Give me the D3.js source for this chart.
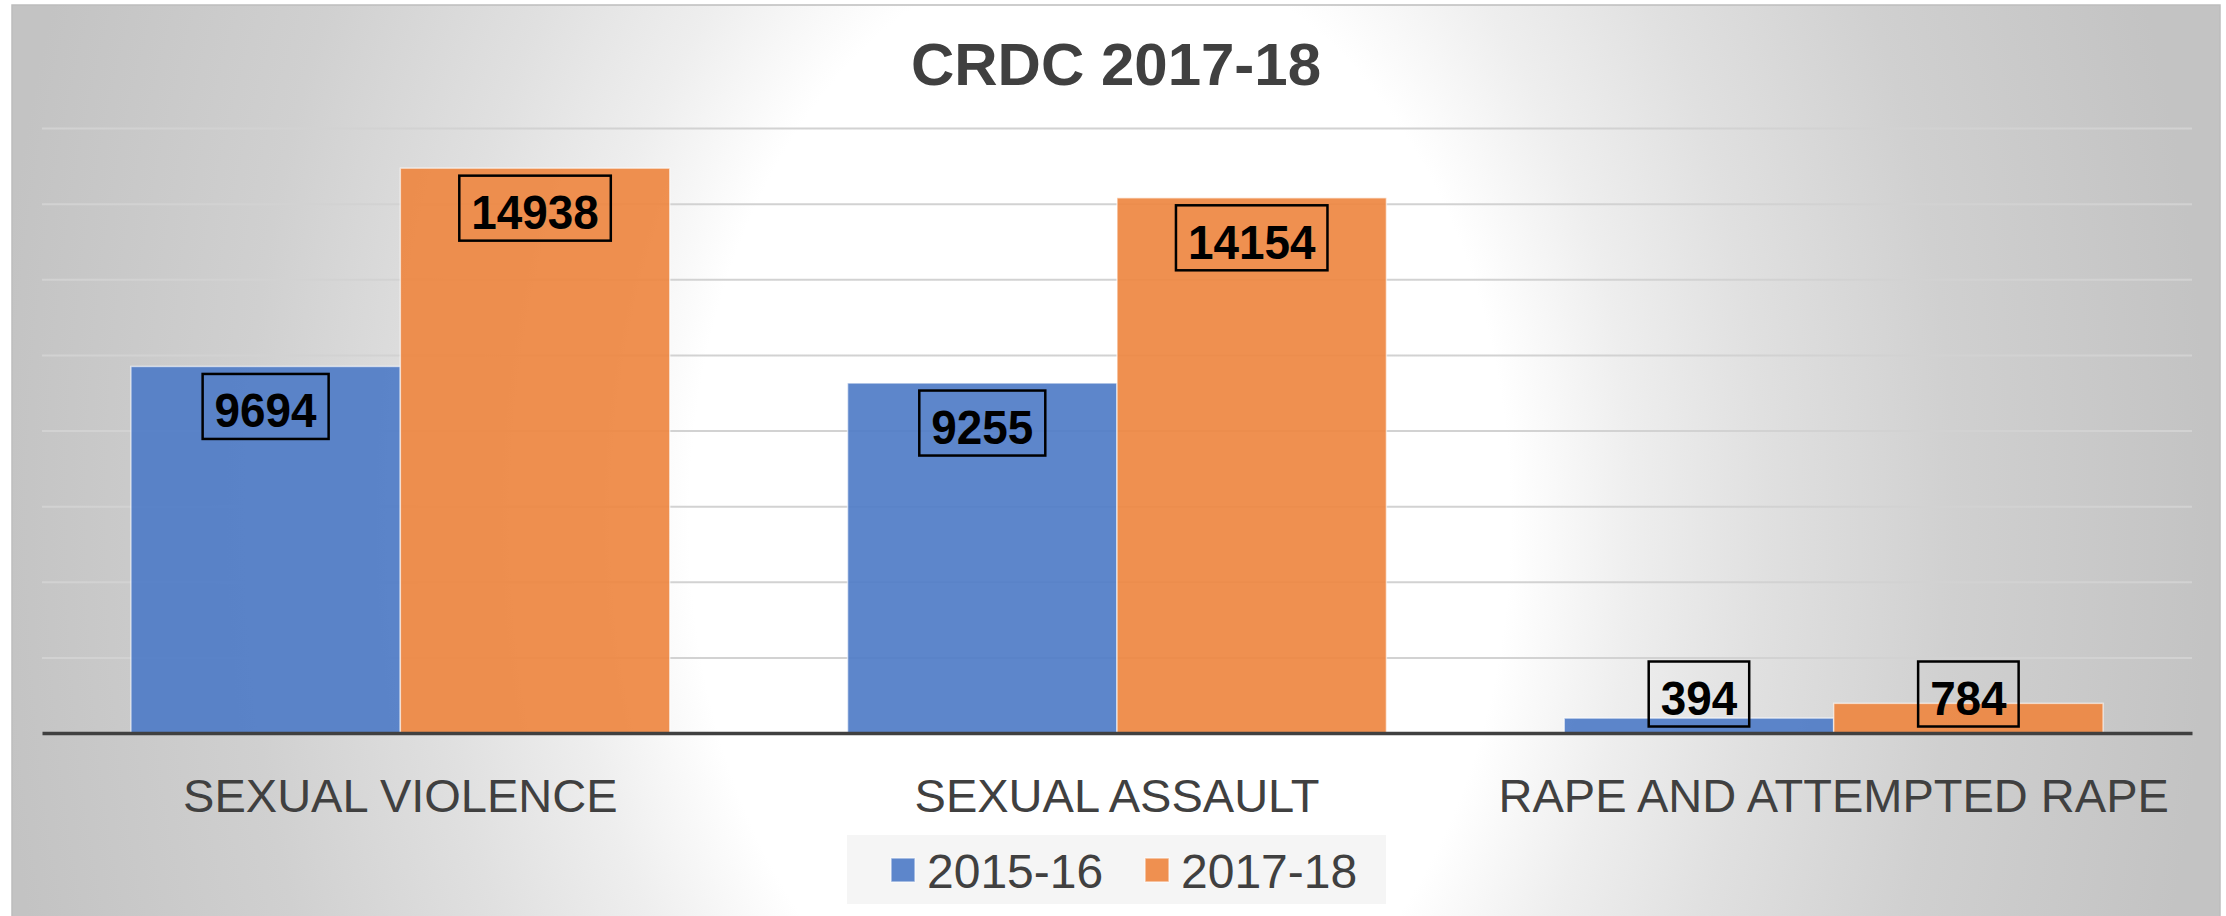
<!DOCTYPE html>
<html>
<head>
<meta charset="utf-8">
<script src="https://cdn.jsdelivr.net/npm/d3@7"></script>
<style>
  html, body { margin: 0; padding: 0; background: #fff; }
  svg { display: block; }
</style>
</head>
<body>
<script>
// values
var categories = ["SEXUAL VIOLENCE", "SEXUAL ASSAULT", "RAPE AND ATTEMPTED RAPE"];
var seriesNames = ["2015-16", "2017-18"];
var values1516 = [9694, 9255, 394];
var values1718 = [14938, 14154, 784];
var yTicks = [2000, 4000, 6000, 8000, 10000, 12000, 14000, 16000];
var colors = ["#4f7cc7", "#ee8741"];

var size = ({ width: 2226, height: 916 });
var plot = ({ left: 42, right: 2192, top: 128, bottom: 733 });

var svg = d3.select("body").append("svg")
  .attr("width", size.width)
  .attr("height", size.height);

var defs = svg.append("defs");

// background: elliptical gradient, white plateau in the middle, grey at the sides
var bg = defs.append("radialGradient")
  .attr("id", "bg")
  .attr("gradientUnits", "userSpaceOnUse")
  .attr("cx", 1100).attr("cy", 520).attr("r", 1110)
  .attr("gradientTransform", "translate(1100,520) scale(1,1.4) translate(-1100,-520)");
[[0, "#ffffff"], [0.37, "#ffffff"], [0.48, "#eeeeee"], [0.6, "#e0e0e0"], [0.77, "#d0d0d0"], [1, "#c3c3c3"]]
  .forEach(function(s) {
    bg.append("stop").attr("offset", s[0]).attr("stop-color", s[1]);
  });

// gridlines get darker towards the bottom
var gg = defs.append("linearGradient")
  .attr("id", "gridGrad")
  .attr("gradientUnits", "userSpaceOnUse")
  .attr("x1", 0).attr("y1", plot.top).attr("x2", 0).attr("y2", plot.bottom);
gg.append("stop").attr("offset", 0).attr("stop-color", "#d2d2d2");
gg.append("stop").attr("offset", 1).attr("stop-color", "#868686");

svg.append("rect")
  .attr("x", 12).attr("y", 5)
  .attr("width", 2208).attr("height", 920)
  .attr("fill", "url(#bg)")
  .attr("stroke", "#bdbdbd")
  .attr("stroke-width", 1.5);

// title
svg.append("text")
  .attr("x", 1116).attr("y", 85)
  .attr("text-anchor", "middle")
  .style("font-family", "'Liberation Sans', Arial, sans-serif")
  .style("font-weight", "bold")
  .style("font-size", "60px")
  .attr("fill", "#404040")
  .text("CRDC 2017-18");

// scales
var x0 = d3.scaleBand()
  .domain(categories)
  .range([plot.left, plot.right])
  .padding(0);

var x1 = d3.scaleBand()
  .domain(seriesNames)
  .range([0, x0.bandwidth()])
  .paddingInner(0)
  .paddingOuter(0.33);

var y = d3.scaleLinear()
  .domain([0, 16000])
  .range([plot.bottom, plot.top]);

// gridlines
var grid = svg.append("g")
  .attr("transform", "translate(" + plot.left + ",0)")
  .call(d3.axisLeft(y).tickValues(yTicks).tickSize(-(plot.right - plot.left)).tickFormat(""));
grid.select(".domain").remove();
grid.selectAll("line")
  .attr("stroke", "url(#gridGrad)")
  .attr("stroke-width", 2);

// bars
var rows = categories.map(function(c, i) {
  return { cat: c, vals: [values1516[i], values1718[i]] };
});

var groups = svg.selectAll("g.cat")
  .data(rows)
  .enter().append("g")
  .attr("class", "cat")
  .attr("transform", function(d) { return "translate(" + x0(d.cat) + ",0)"; });

groups.selectAll("rect")
  .data(function(d) { return d.vals.map(function(v, j) { return { s: seriesNames[j], v: v, j: j }; }); })
  .enter().append("rect")
  .attr("x", function(d) { return x1(d.s); })
  .attr("y", function(d) { return y(d.v); })
  .attr("width", x1.bandwidth())
  .attr("height", function(d) { return y(0) - y(d.v); })
  .attr("fill", function(d) { return colors[d.j]; })
  .attr("fill-opacity", 0.92)
  .attr("stroke", "#ffffff")
  .attr("stroke-opacity", 0.6)
  .attr("stroke-width", 1.5);

// category axis (baseline + labels)
var xAxis = svg.append("g")
  .attr("transform", "translate(0," + y(0) + ")")
  .call(d3.axisBottom(x0).tickSize(0).tickSizeOuter(0).tickPadding(79));
xAxis.select(".domain")
  .attr("stroke", "#404040")
  .attr("stroke-width", 3.7);
xAxis.selectAll("text")
  .attr("dy", "0")
  .style("font-family", "'Liberation Sans', Arial, sans-serif")
  .style("font-size", "47px")
  .attr("fill", "#404040");

// boxed value labels
var labels = groups.selectAll("g.lab")
  .data(function(d) { return d.vals.map(function(v, j) { return { s: seriesNames[j], v: v }; }); })
  .enter().append("g")
  .attr("class", "lab")
  .attr("transform", function(d) {
    var top = Math.min(y(d.v) + 7.5, y(0) - 71.5);
    return "translate(" + (x1(d.s) + x1.bandwidth() / 2) + "," + top + ")";
  });

labels.append("rect")
  .attr("x", function(d) { return -(String(d.v).length * 25.5 + 24) / 2; })
  .attr("y", 0)
  .attr("width", function(d) { return String(d.v).length * 25.5 + 24; })
  .attr("height", 65)
  .attr("fill", "none")
  .attr("stroke", "#000")
  .attr("stroke-width", 2.5);

labels.append("text")
  .attr("x", 0)
  .attr("y", 53.5)
  .attr("text-anchor", "middle")
  .attr("textLength", function(d) { return String(d.v).length * 25.5; })
  .attr("lengthAdjust", "spacingAndGlyphs")
  .style("font-family", "'Liberation Sans Narrow', 'Arial Narrow', 'Liberation Sans', Arial, sans-serif")
  .style("font-weight", "bold")
  .style("font-size", "49px")
  .attr("fill", "#000")
  .text(function(d) { return d.v; });

// legend
var legend = svg.append("g");
legend.append("rect")
  .attr("x", 847).attr("y", 835)
  .attr("width", 539).attr("height", 69)
  .attr("fill", "#f2f2f2")
  .attr("fill-opacity", 0.75);

var legendX = [891, 1145];
var items = legend.selectAll("g.item")
  .data(seriesNames)
  .enter().append("g")
  .attr("class", "item")
  .attr("transform", function(d, i) { return "translate(" + legendX[i] + ",0)"; });

items.append("rect")
  .attr("x", 0).attr("y", 858)
  .attr("width", 24).attr("height", 24)
  .attr("fill", function(d, i) { return colors[i]; })
  .attr("fill-opacity", 0.92)
  .attr("stroke", "#ffffff")
  .attr("stroke-opacity", 0.6)
  .attr("stroke-width", 1.5);

items.append("text")
  .attr("x", 36).attr("y", 888)
  .style("font-family", "'Liberation Sans', Arial, sans-serif")
  .style("font-size", "48px")
  .attr("fill", "#404040")
  .text(function(d) { return d; });
</script>
</body>
</html>
